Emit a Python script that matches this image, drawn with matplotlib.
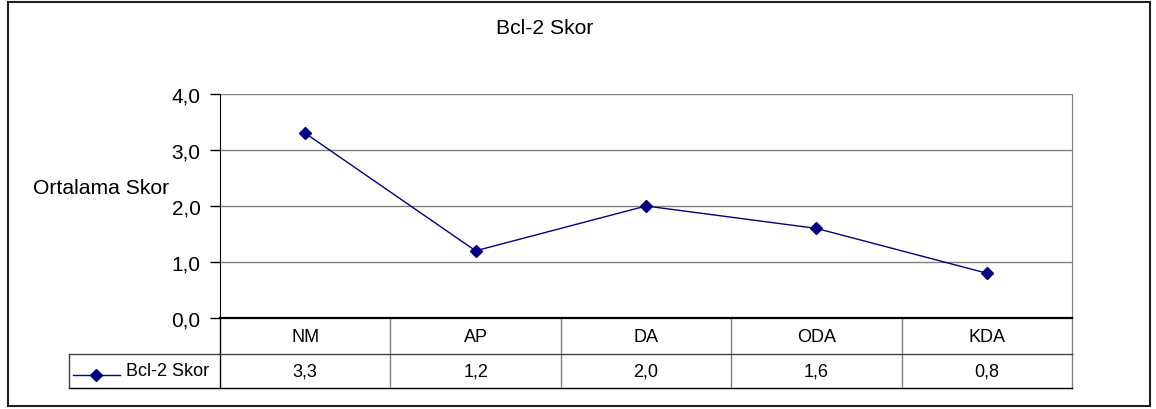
import matplotlib
matplotlib.use("Agg")
import matplotlib.pyplot as plt
from matplotlib.patches import Rectangle
from matplotlib.lines import Line2D
import matplotlib.transforms as mtransforms

categories = ["NM", "AP", "DA", "ODA", "KDA"]
values = [3.3, 1.2, 2.0, 1.6, 0.8]
series_name = "Bcl-2 Skor"
title = "Bcl-2 Skor"
ylabel = "Ortalama Skor"
yticks = [0.0, 1.0, 2.0, 3.0, 4.0]

plt.rcParams['font.family'] = ['Liberation Sans', 'DejaVu Sans']
FS_BIG = 15.2
FS_TICK = 15.0
FS_TAB = 13.0
W, H = 1156, 410
fig = plt.figure(figsize=(W / 100, H / 100), dpi=100)

def fx(px):
    return px / W

def fy(py):
    return 1 - py / H

# outer frame
fig.patches.append(Rectangle((fx(8), fy(407)), fx(1150) - fx(8), fy(3) - fy(407),
                             transform=fig.transFigure, fill=False,
                             edgecolor='#202020', linewidth=1.5))

L, R, T, B = 220, 1072, 95, 319
ax = fig.add_axes([fx(L), fy(B), fx(R) - fx(L), fy(T) - fy(B)])
navy = '#000080'
ax.plot(range(len(categories)), values, color=navy, linewidth=1.0,
        marker='D', markersize=6.5, markerfacecolor=navy, markeredgecolor=navy, zorder=3)
ax.set_xlim(-0.5, len(categories) - 0.5)
ax.set_ylim(0, 4)
ax.set_yticks(yticks)
ax.set_yticklabels([f"{v:.1f}".replace('.', ',') for v in yticks], fontsize=FS_TICK)
ax.set_xticks([])
for v in yticks[1:]:
    ax.axhline(v, color='#808080', linewidth=1.0, zorder=1)
ax.tick_params(axis='y', length=7, width=1, direction='out', pad=7, color='black')
ax.spines['top'].set_visible(False)
ax.spines['right'].set_color('#808080')
ax.spines['left'].set_color('black')
ax.spines['bottom'].set_color('black')
ax.spines['bottom'].set_linewidth(1.6)

fig.text(fx(33), fy(189), ylabel, fontsize=FS_BIG, ha='left', va='center')
fig.text(fx(545), fy(29), title, fontsize=FS_BIG, ha='center', va='center')

# table
ah = B - T
aw = R - L
def ay(py):
    return (B - py) / ah

row1_bot = ay(355)
row2_bot = ay(389)
trans = mtransforms.blended_transform_factory(ax.transData, ax.transAxes)
n = len(categories)
for i in range(n + 1):
    xb = i - 0.5
    col = 'black' if i == 0 else '#808080'
    ax.add_line(Line2D([xb, xb], [0, row2_bot], transform=trans, color=col,
                       linewidth=1.0, clip_on=False))
legx = (69 - L) / aw
ax.add_line(Line2D([legx, 1], [row1_bot, row1_bot], transform=ax.transAxes,
                   color='#404040', linewidth=1.0, clip_on=False))
ax.add_line(Line2D([legx, 1], [row2_bot, row2_bot], transform=ax.transAxes,
                   color='black', linewidth=1.0, clip_on=False))
ax.add_line(Line2D([legx, legx], [row1_bot, row2_bot], transform=ax.transAxes,
                   color='#404040', linewidth=1.0, clip_on=False))

for i, c in enumerate(categories):
    ax.text(i, (row1_bot) / 2, c, transform=trans, ha='center', va='center', fontsize=FS_TAB)
    ax.text(i, (row1_bot + row2_bot) / 2, f"{values[i]:.1f}".replace('.', ','),
            transform=trans, ha='center', va='center', fontsize=FS_TAB)

# legend key
ly = ay(376)
ax.add_line(Line2D([(73 - L) / aw, (120 - L) / aw], [ly, ly], transform=ax.transAxes,
                   color=navy, linewidth=1.0, clip_on=False))
ax.add_line(Line2D([(96 - L) / aw], [ly], transform=ax.transAxes, marker='D',
                   markersize=6.5, color=navy, linestyle='none', clip_on=False))
ax.text((126 - L) / aw, (row1_bot + row2_bot) / 2, series_name, transform=ax.transAxes,
        ha='left', va='center', fontsize=FS_TAB)

fig.savefig("out.png", dpi=100)
